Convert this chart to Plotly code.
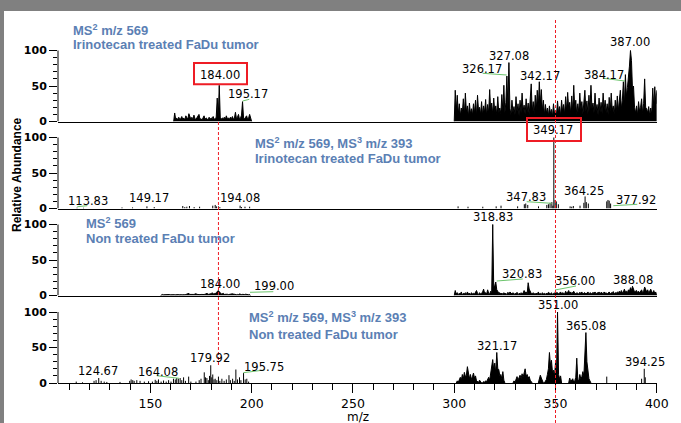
import plotly.graph_objects as go

STEP = 0.5  # m/z sampling step of the profile data

# ---------------- data ----------------
# Panel 1: MS2 m/z 569, irinotecan treated FaDu tumor (profile)
p1_lo_start = 161.5
p1_lo = [0, 12, 3, 5, 2, 6, 3, 4, 7, 3, 5, 2, 8, 4, 3, 11, 5, 3, 6, 2, 9, 4, 3, 5, 7, 10, 3, 4, 2, 6,
         8, 3, 5, 4, 2, 6, 3, 5, 4, 7, 3, 4, 6, 33, 5, 51, 6, 3, 5, 4, 6, 3, 8, 4, 5, 3, 6, 4, 7, 3,
         5, 13, 4, 6, 10, 3, 5, 9, 28, 5, 4, 6, 8, 3, 5, 10, 4, 0]
p1_hi_start = 300.0
p1_hi = [0, 44, 15, 37, 10, 25, 8, 19, 12, 32, 9, 40, 14, 22, 7, 26, 11, 18, 9, 25,
         12, 30, 8, 37, 15, 20, 10, 28, 9, 22, 13, 31, 8, 24, 12, 45, 16, 26, 10, 33,
         14, 22, 9, 35, 12, 19, 11, 38, 15, 51, 12, 27, 64, 20, 83, 18, 10, 30, 13, 21,
         9, 35, 14, 25, 8, 30, 12, 40, 15, 23, 10, 32, 13, 26, 9, 30, 53, 14, 28, 10,
         37, 16, 44, 20, 56, 25, 45, 15, 30, 9, 24, 12, 19, 8, 22, 11, 17, 7, 25, 10,
         16, 9, 29, 12, 21, 8, 30, 14, 24, 10, 35, 15, 41, 18, 27, 11, 36, 14, 51, 17,
         30, 9, 25, 13, 40, 16, 28, 10, 33, 44, 14, 29, 11, 37, 15, 51, 18, 26, 12, 40,
         15, 24, 9, 33, 13, 27, 11, 40, 17, 30, 12, 25, 9, 34, 14, 40, 16, 22, 10, 30,
         13, 36, 15, 28, 44, 18, 30, 56, 22, 66, 35, 48, 60, 78, 100, 86, 45, 50, 20, 12,
         22, 9, 28, 14, 20, 32, 11, 25, 60, 20, 18, 12, 21, 8, 19, 10, 47, 20, 49, 25,
         44]

# Panel 2: MS2 m/z 569, MS3 m/z 393, irinotecan treated (centroid sticks)
p2_mz = [113.8, 117.0, 136.0, 141.2, 148.3, 151.9, 166.0, 167.0, 168.0, 169.3, 171.6, 174.3,
         180.8, 182.0, 182.6, 183.6, 184.3, 194.3, 195.0, 196.7, 199.0,
         301.9, 306.8, 314.1, 320.7, 323.1, 331.3, 334.6, 335.3, 336.3, 341.6, 345.7, 346.5,
         347.3, 348.2, 348.7, 349.17, 349.8, 350.4, 351.4, 357.2, 358.0, 358.8, 362.1, 364.0,
         364.6, 365.2, 366.2, 375.3, 375.9, 376.5, 377.2]
p2_int = [1.2, 1, 1.5, 1.5, 3, 2, 3.5, 2, 2.5, 3.5, 2, 2.5,
          4, 5, 3, 3, 2, 4, 2, 2.5, 2.5,
          3, 2.5, 2.5, 3, 4, 3, 6, 7, 5, 3, 5, 6,
          8, 9, 4, 100, 12, 10, 6, 3, 2.5, 3.5, 4, 8,
          17, 9, 7, 10, 12, 11, 7]

# Panel 3: MS2 569, non treated FaDu tumor (profile)
p3_lo_start = 155.0
p3_lo = [0, 1, 1.5, 1, 1.2, 1, 1.5, 1, 1.2, 1.4, 1, 1.3, 1, 1.5, 1.2, 1, 1.4, 1.1, 1.3, 1,
         1.5, 1.2, 1, 1.6, 1.2, 1.4, 1.8, 2.2, 3, 1.5, 1.3, 1.8, 1.2, 1.5, 2, 2.6, 1.6, 1.3, 1.8, 1.2,
         1.5, 1.3, 2, 1.4, 1.8, 2.4, 3, 1.6, 2, 1.5, 2.5, 4, 2, 2.8, 2.2, 4, 6, 7, 5.5, 3,
         2, 2.5, 3, 1.6, 2, 1.4, 1.8, 1.3, 1.7, 1.2, 1.6, 2.4, 2, 1.4, 1.6, 1.2, 1.5, 1.3, 2.2, 1.5,
         1.3, 1.6, 1.2, 1.4, 1.8, 1.2, 1.5, 1.1, 1.3, 0]
p3_hi_start = 300.0
p3_hi = [0, 7, 2, 4, 1.5, 3, 2, 5, 1, 3, 2.5, 4, 1.5, 5, 2, 3.5, 1, 4, 2, 3,
         2, 4.5, 7, 3, 1.5, 4, 2, 3, 5, 9, 3, 4, 2, 8, 3, 2, 6, 4, 100, 12,
         14, 19, 8, 6, 3, 4, 2, 3.5, 1.5, 4, 2, 3, 1.5, 4.5, 2, 5, 3, 2, 4, 1.5,
         3, 2, 4.5, 1.5, 3, 2.5, 4, 2, 3.5, 7, 4, 5, 2, 18, 9, 5, 3, 2, 4, 2.5,
         2, 3.5, 1.5, 5, 2, 3, 1.5, 4, 2, 3, 1.5, 3.5, 2, 4.5, 3, 2, 4, 1.5, 3, 2,
         6, 3, 4, 2, 3.5, 5, 2.5, 4, 3, 2, 6, 3, 4.5, 7, 3, 5, 2.5, 4, 6, 3,
         2.5, 4, 3, 2, 4.5, 3, 5, 2, 3.5, 4, 2, 3, 5, 2.5, 4, 3, 2, 4.5, 3, 5,
         2.5, 4, 3, 5, 2, 4.5, 3, 2.5, 5, 3, 4, 2, 3.5, 5, 2.5, 4, 3, 5.5, 2.5, 4,
         3, 5, 4, 6, 3.5, 7, 4, 5, 9, 5, 6, 4, 8, 6, 11, 7, 13, 8, 5, 6,
         7, 4, 6, 3.5, 5, 8, 4, 6, 12, 7, 5, 8, 4, 6, 9, 5, 4, 7, 3, 5,
         0]

# Panel 4: MS2 m/z 569, MS3 m/z 393, non treated (profile clusters + sticks)
p4_seg_starts = [301.0, 329.0, 341.5, 356.5]
p4_segs = [
    [0, 3, 1, 5, 8, 4, 12, 6, 15, 9, 11, 23, 10, 6, 12, 5, 9, 14, 7, 10, 3, 2, 1, 4, 1, 0, 0, 2, 1, 3,
     2, 5, 8, 4, 12, 23, 33, 18, 28, 14, 43, 20, 19, 10, 12, 6, 16, 4, 0],
    [0, 3, 1, 5, 9, 4, 7, 11, 6, 13, 8, 14, 20, 10, 12, 7, 9, 4, 2, 0],
    [0, 6, 11, 7, 3, 0, 0, 2, 5, 12, 20, 43, 25, 32, 15, 18, 10, 28, 14, 100, 12, 6, 10, 0],
    [0, 7, 2, 4, 6, 1, 3, 8, 35, 5, 3, 12, 6, 9, 16, 10, 42, 71, 30, 16, 6, 3, 0],
]
p4_mz = [113.4, 116.5, 122.2, 123.2, 124.5, 125.7, 127.2, 128.5, 135.0, 139.8, 140.5, 141.3,
         142.0, 143.3, 144.9, 147.0, 149.1, 151.0, 152.4, 153.2, 154.0, 155.3, 156.5, 157.8,
         159.0, 160.2, 161.4, 162.3, 163.0, 163.8, 164.7, 165.5, 166.4, 167.3, 168.9, 170.0,
         172.5, 174.1, 175.0, 176.6, 177.2, 177.9, 178.6, 179.2, 179.8, 180.3, 180.8, 181.4,
         182.0, 182.8, 183.6, 184.3, 185.3, 186.4, 187.5, 188.8, 189.5, 190.6, 191.4, 192.2,
         193.0, 194.0, 194.7, 196.0, 196.8, 197.6, 198.5,
         375.3, 392.5, 393.8, 394.3]
p4_int = [2, 1, 3, 4, 7, 3, 2, 1.5, 1.5, 3, 5, 4,
          3, 4, 3, 2, 2.5, 2, 4.5, 3, 5, 2, 3.5, 2,
          4, 2, 6, 5, 7, 6, 7, 4, 8, 3, 9, 2,
          2, 4, 6, 15, 8, 7, 4, 10, 25, 8, 12, 5,
          6, 4, 9, 3, 6, 3, 5, 11, 4, 6, 3, 19,
          5, 8, 4, 14, 5, 6, 2,
          9, 6, 20, 8]

# Peak labels: (text, m/z position, relative abundance position)
p1_labels = [("184.00", 184.2, 64.8), ("195.17", 198.2, 38.7), ("326.17", 313.9, 73.9),
             ("327.08", 327.0, 92.3), ("342.17", 342.1, 64.4), ("384.17", 373.9, 65.9),
             ("387.00", 386.8, 111.3)]
p2_labels = [("113.83", 119.1, 10.8), ("149.17", 149.2, 15.2), ("194.08", 194.0, 15.2),
             ("349.17", 348.8, 110.6), ("347.83", 335.2, 15.9), ("364.25", 364.1, 24.2),
             ("377.92", 389.9, 11.3)]
p3_labels = [("184.00", 184.2, 16.5), ("199.00", 210.8, 13.0), ("318.83", 319.1, 109.9),
             ("320.83", 333.4, 30.5), ("356.00", 359.5, 20.0), ("388.08", 388.2, 22.5)]
p4_labels = [("124.67", 124.2, 17.6), ("164.08", 153.6, 15.2), ("179.92", 179.5, 35.6),
             ("195.75", 206.3, 22.3), ("351.00", 351.0, 109.2), ("365.08", 365.2, 80.7),
             ("321.17", 321.0, 52.5), ("394.25", 394.0, 30.0)]

panel_titles = [
    ("MS<sup>2</sup> m/z 569", "Irinotecan treated FaDu tumor"),
    ("MS<sup>2</sup> m/z 569, MS<sup>3</sup> m/z 393", "Irinotecan treated FaDu tumor"),
    ("MS<sup>2</sup> 569", "Non treated FaDu tumor"),
    ("MS<sup>2</sup> m/z 569, MS<sup>3</sup> m/z 393", "Non treated FaDu tumor"),
]
x_tick_vals = [150, 200, 250, 300, 350, 400]
x_minor_vals = [110, 120, 130, 140, 160, 170, 180, 190, 210, 220, 230, 240, 260, 270, 280, 290,
                310, 320, 330, 340, 360, 370, 380, 390]
y_tick_vals = [0, 50, 100]
y_minor_vals = [10, 20, 30, 40, 60, 70, 80, 90]
marked_mz = [183.6, 350.0]

# ---------------- layout geometry (pixels) ----------------
W, H = 681, 423
X_RANGE = [104.4, 400]
X_DOM = [58 / W, 656.8 / W]
BASES = [121.5, 208.5, 295.5, 383.0]
PX_PER_PCT = 0.71
PANEL_PX = 86
YMAX = PANEL_PX / PX_PER_PCT

def fx(px):
    return px / W

def fy(py):
    return 1 - py / H

def grid(start, vals):
    return [start + STEP * i for i in range(len(vals))]

def sticks(mz, inten):
    xs, ys = [], []
    for m, h in zip(mz, inten):
        xs += [m, m, None]
        ys += [0, h, None]
    return xs, ys

BLACK = "black"
BLUE = "#5b80b4"
RED = "#ee1c25"
GREEN = "#6cc46c"
FRAME = "#808080"
TICKFONT = "DejaVu Sans"

fig = go.Figure()

def add_line(n, x, y, fill=False):
    sfx = "" if n == 1 else str(n)
    kw = dict(fill="tozeroy", fillcolor=BLACK) if fill else {}
    fig.add_trace(go.Scatter(x=x, y=y, mode="lines", line=dict(color=BLACK, width=1),
                             xaxis="x" + sfx, yaxis="y" + sfx, hoverinfo="skip",
                             showlegend=False, connectgaps=False, **kw))

add_line(1, grid(p1_lo_start, p1_lo), p1_lo, fill=True)
add_line(1, grid(p1_hi_start, p1_hi), p1_hi, fill=True)
sx, sy = sticks(p2_mz, p2_int)
add_line(2, sx, sy)
add_line(3, grid(p3_lo_start, p3_lo), p3_lo, fill=True)
add_line(3, grid(p3_hi_start, p3_hi), p3_hi, fill=True)
for st, seg in zip(p4_seg_starts, p4_segs):
    add_line(4, grid(st, seg), seg, fill=True)
sx, sy = sticks(p4_mz, p4_int)
add_line(4, sx, sy)

layout = dict(width=W, height=H, autosize=False, margin=dict(l=0, r=0, t=0, b=0),
              paper_bgcolor="white", plot_bgcolor="rgba(0,0,0,0)", showlegend=False)
# gray frame pieces: top band and left strip
shapes = [dict(type="rect", xref="paper", yref="paper", x0=-0.02, x1=1.02, y0=fy(11), y1=1.03,
               fillcolor=FRAME, line=dict(width=0)),
          dict(type="rect", xref="paper", yref="paper", x0=-0.02, x1=fx(4), y0=-0.03, y1=1.03,
               fillcolor=FRAME, line=dict(width=0))]
annotations = []

for i, base in enumerate(BASES):
    n = i + 1
    sfx = "" if n == 1 else str(n)
    xa = dict(domain=X_DOM, range=X_RANGE, anchor="y" + sfx, showline=True, linecolor=BLACK,
              linewidth=1, showgrid=False, zeroline=False, fixedrange=True, automargin=False)
    if n == 4:
        xa.update(tickmode="array", tickvals=x_tick_vals, ticks="outside", ticklen=9,
                  tickwidth=1, tickcolor=BLACK,
                  tickfont=dict(family=TICKFONT, size=12.5, color=BLACK),
                  minor=dict(tickmode="array", tickvals=x_minor_vals, ticks="outside",
                             ticklen=6, tickwidth=1, tickcolor=BLACK))
    else:
        xa.update(ticks="", showticklabels=False, matches="x4")
    ya = dict(domain=[fy(base), fy(base - PANEL_PX)], range=[0, YMAX], anchor="x" + sfx,
              showline=False, showgrid=False, zeroline=False, fixedrange=True,
              automargin=False, tickmode="array", tickvals=y_tick_vals, ticks="outside",
              ticklen=8, tickwidth=1, tickcolor=BLACK,
              tickfont=dict(family=TICKFONT, size=11, color=BLACK, weight="bold"),
              minor=dict(tickmode="array", tickvals=y_minor_vals, ticks="outside",
                         ticklen=4, tickwidth=1, tickcolor=BLACK))
    layout["xaxis" + sfx] = xa
    layout["yaxis" + sfx] = ya
    # y axis line only from 0 to 100
    shapes.append(dict(type="line", xref="x" + sfx + " domain", yref="y" + sfx,
                       x0=0, x1=0, y0=0, y1=100, line=dict(color=BLACK, width=1)))

# peak labels
for n, labels in enumerate([p1_labels, p2_labels, p3_labels, p4_labels], start=1):
    sfx = "" if n == 1 else str(n)
    for text, mz, ab in labels:
        annotations.append(dict(text=text, x=mz, y=ab, xref="x" + sfx, yref="y" + sfx,
                                showarrow=False, xanchor="center", yanchor="middle",
                                font=dict(family=TICKFONT, size=11.5, color=BLACK)))

# panel descriptions (pixel positions: left x, centre y of each line)
title_pos = [(71, 30, 44.5), (253, 142.8, 158), (84, 222.8, 238.3), (247, 317.2, 334.3)]
for (l1, l2), (px, y1, y2) in zip(panel_titles, title_pos):
    for txt, yy in ((l1, y1), (l2, y2)):
        annotations.append(dict(text="<b>" + txt + "</b>", x=fx(px), y=fy(yy), xref="paper",
                                yref="paper", showarrow=False, xanchor="left",
                                yanchor="middle",
                                font=dict(family="Liberation Sans, Arial", size=13,
                                          color=BLUE)))

# axis titles
annotations.append(dict(text="<b>Relative Abundance</b>", x=fx(17), y=fy(175), xref="paper",
                        yref="paper", showarrow=False, textangle=-90, xanchor="center",
                        yanchor="middle",
                        font=dict(family="Liberation Sans, Arial", size=12, color=BLACK)))
annotations.append(dict(text="m/z", x=fx(358), y=fy(417), xref="paper", yref="paper",
                        showarrow=False, xanchor="center", yanchor="middle",
                        font=dict(family=TICKFONT, size=12, color=BLACK)))

# leader lines (pixel coordinates)
leaders = [((242.7, 101), (249.3, 99.3)), ((482.7, 73.3), (506.7, 75)),
           ((603.3, 78.3), (625, 81)), ((77.3, 206.7), (87.3, 205.7)),
           ((526.7, 201.7), (551.7, 203.3)), ((613.3, 205.7), (637.3, 204.3)),
           ((250, 292.3), (273.3, 291.7)), ((496.7, 281), (522.7, 279)),
           ((555, 290), (576, 286)), ((156.7, 375.7), (179, 378.3)),
           ((243.3, 372.7), (264.3, 370))]
for (xa_, ya_), (xb_, yb_) in leaders:
    shapes.append(dict(type="line", xref="paper", yref="paper", x0=fx(xa_), y0=fy(ya_),
                       x1=fx(xb_), y1=fy(yb_), line=dict(color=GREEN, width=1)))

# red dashed marker lines
shapes.append(dict(type="line", xref="x4", yref="paper", x0=marked_mz[0], x1=marked_mz[0],
                   y0=fy(365), y1=fy(121), line=dict(color=RED, width=1, dash="3px,2px")))
shapes.append(dict(type="line", xref="x4", yref="paper", x0=marked_mz[1], x1=marked_mz[1],
                   y0=fy(423), y1=fy(20), line=dict(color=RED, width=1, dash="3px,2px")))

# red boxes around highlighted labels
for (x0, y0, x1, y1) in [(194, 63, 247, 84.3), (527, 118, 581, 141)]:
    shapes.append(dict(type="rect", xref="paper", yref="paper", x0=fx(x0), x1=fx(x1),
                       y0=fy(y1), y1=fy(y0), line=dict(color=RED, width=2)))

layout["shapes"] = shapes
layout["annotations"] = annotations
fig.update_layout(**layout)
fig.write_html(
    "out.html",
    config={"displayModeBar": False},
    post_script=("document.documentElement.style.margin='0';"
                 "document.body.style.margin='0';"),
)
